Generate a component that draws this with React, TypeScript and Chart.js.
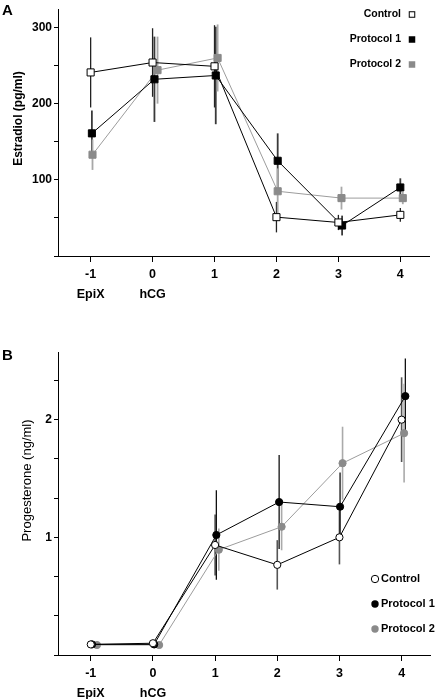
import React, { useEffect, useRef } from "react";
import { Chart, registerables } from "chart.js";

Chart.register(...registerables);

// ---------- shared ----------
const days = [-1, 0, 1, 2, 3, 4];
const dayNames = ["EpiX", "hCG", "", "", "", ""];
const seriesNames = ["Control", "Protocol 1", "Protocol 2"];

// ---------- Panel A: Estradiol (pg/ml) ----------
const estrXControl = [-1, 0, 1, 2, 3, 4];
const estrXP1 = [-0.98, 0.03, 1.02, 2.02, 3.06, 4.0];
const estrXP2 = [-0.97, 0.08, 1.05, 2.02, 3.05, 4.04];
const estrControl = [241, 254, 249, 51, 44, 54];
const estrP1 = [161, 232, 237, 125, 40, 90];
const estrP2 = [133, 244, 260, 85, 76, 76];
const estrControlErr = [46, 45, 54, 20, 10, 9];
const estrP1Err = [30, 56, 64, 36, 13, 12];
const estrP2Err = [20, 44, 44, 30, 15, 8];
const estrYTicks = [0, 50, 100, 150, 200, 250, 300];

// ---------- Panel B: Progesterone (ng/ml) ----------
const progXControl = [-1, 0, 1, 2, 3, 4];
const progXP1 = [-0.98, 0.02, 1.02, 2.03, 3.01, 4.06];
const progXP2 = [-0.9, 0.1, 1.06, 2.07, 3.05, 4.04];
const progControl = [0.09, 0.1, 0.935, 0.766, 1.0, 2.0];
const progP1 = [0.09, 0.09, 1.02, 1.3, 1.26, 2.2];
const progP2 = [0.085, 0.085, 0.895, 1.09, 1.63, 1.885];
const progControlErr = [0.03, 0.02, 0.26, 0.21, 0.23, 0.36];
const progP1Err = [0.03, 0.02, 0.38, 0.4, 0.29, 0.32];
const progP2Err = [0.02, 0.02, 0.18, 0.2, 0.31, 0.42];
const progYTicks = [0, 1 / 3, 2 / 3, 1, 4 / 3, 5 / 3, 2, 7 / 3];

const FONT = "'Liberation Sans', Arial, sans-serif";
Chart.defaults.font.family = FONT;
Chart.defaults.color = "#000";

const P2_MARK = "#8a8a8a";
const P2_LINE = "#9c9c9c";

const errorBarPlugin = {
  id: "errorBars",
  beforeDatasetsDraw(chart: any, _args: any, opts: any) {
    const ctx = chart.ctx;
    const ys = chart.scales.y;
    ctx.save();
    chart.data.datasets.forEach((ds: any, i: number) => {
      const meta = chart.getDatasetMeta(i);
      const errs: number[] = opts.errors[i];
      ctx.strokeStyle = opts.colors[i];
      ctx.lineWidth = opts.widths[i];
      meta.data.forEach((pt: any, j: number) => {
        const v = ds.data[j].y;
        const e = errs[j];
        const top = ys.getPixelForValue(v + e);
        const bot = ys.getPixelForValue(v - e);
        ctx.beginPath();
        ctx.moveTo(pt.x, top);
        ctx.lineTo(pt.x, bot);
        ctx.stroke();
      });
    });
    ctx.restore();
  },
};

const decorPlugin = {
  id: "decor",
  afterDraw(chart: any, _args: any, o: any) {
    const ctx = chart.ctx;
    ctx.save();
    // panel letter
    ctx.fillStyle = "#000";
    ctx.font = `bold 15px ${FONT}`;
    ctx.textAlign = "left";
    ctx.textBaseline = "alphabetic";
    ctx.fillText(o.panel, o.panelX, o.panelY);
    // y-axis title
    ctx.save();
    ctx.translate(o.titleX, o.titleY);
    ctx.rotate(-Math.PI / 2);
    ctx.font = o.titleFont;
    ctx.textAlign = "center";
    ctx.textBaseline = "middle";
    ctx.fillText(o.title, 0, 0);
    ctx.restore();
    // legend
    ctx.font = o.legendFont;
    ctx.textBaseline = "middle";
    o.items.forEach((it: any, i: number) => {
      const y = o.legendY + i * o.legendGap;
      ctx.fillStyle = "#000";
      if (o.legendStyle === "rect") {
        ctx.textAlign = "right";
        ctx.fillText(it.label, o.textX, y);
        const s = o.markSize;
        ctx.fillStyle = it.fill;
        ctx.fillRect(o.markX - s / 2, y - s / 2, s, s);
        if (it.stroke) {
          ctx.strokeStyle = it.stroke;
          ctx.lineWidth = 1;
          ctx.strokeRect(o.markX - s / 2 + 0.5, y - s / 2 + 0.5, s - 1, s - 1);
        }
      } else {
        ctx.textAlign = "left";
        ctx.fillText(it.label, o.textX, y);
        ctx.beginPath();
        ctx.arc(o.markX, y, o.markSize, 0, Math.PI * 2);
        ctx.fillStyle = it.fill;
        ctx.fill();
        if (it.stroke) {
          ctx.strokeStyle = it.stroke;
          ctx.lineWidth = 1;
          ctx.stroke();
        }
      }
    });
    ctx.restore();
  },
};

function makeDataset(label: string, xs: number[], ys: number[], style: any) {
  return {
    label,
    data: xs.map((x, i) => ({ x, y: ys[i] })),
    borderColor: style.line,
    borderWidth: 1,
    tension: 0,
    pointStyle: style.pointStyle,
    pointRadius: style.radius,
    pointHoverRadius: style.radius,
    pointBackgroundColor: style.fill,
    pointBorderColor: style.stroke,
    pointBorderWidth: 1,
    fill: false,
  };
}

function xScale(height: number) {
  return {
    type: "linear",
    min: -1.527,
    max: 4.463,
    afterBuildTicks: (axis: any) => {
      axis.ticks = days.map((v) => ({ value: v }));
    },
    afterFit: (s: any) => {
      s.height = height;
    },
    grid: { drawOnChartArea: false, drawTicks: true, tickLength: 6, color: "#000", lineWidth: 1 },
    border: { display: true, color: "#000", width: 1 },
    ticks: {
      autoSkip: false,
      maxRotation: 0,
      padding: 3,
      color: "#000",
      font: { size: 12.5, weight: "bold", lineHeight: 1.55 },
      callback: (value: any) => {
        const i = days.indexOf(Number(value));
        const name = i >= 0 ? dayNames[i] : "";
        return name ? [String(value), name] : String(value);
      },
    },
  };
}

function yScale(min: number, max: number, ticks: number[], labelFn: (v: number) => string) {
  return {
    type: "linear",
    min,
    max,
    afterBuildTicks: (axis: any) => {
      axis.ticks = ticks.map((v) => ({ value: v }));
    },
    afterFit: (s: any) => {
      s.width = 58;
    },
    grid: { drawOnChartArea: false, drawTicks: true, tickLength: 4, color: "#000", lineWidth: 1 },
    border: { display: true, color: "#000", width: 1 },
    ticks: {
      autoSkip: false,
      padding: 2,
      color: "#000",
      font: { size: 12, weight: "bold" },
      callback: (value: any) => labelFn(Number(value)),
    },
  };
}

function useChart(ref: React.RefObject<HTMLCanvasElement | null>, build: () => any) {
  useEffect(() => {
    if (!ref.current) return;
    const chart = new Chart(ref.current, build());
    return () => chart.destroy();
  }, []);
}

export default function App() {
  const refA = useRef<HTMLCanvasElement>(null);
  const refB = useRef<HTMLCanvasElement>(null);

  useChart(refA, () => ({
    type: "line",
    data: {
      datasets: [
        makeDataset(seriesNames[0], estrXControl, estrControl, { line: "#000", pointStyle: "rect", radius: 5, fill: "#fff", stroke: "#000" }),
        makeDataset(seriesNames[1], estrXP1, estrP1, { line: "#000", pointStyle: "rect", radius: 5, fill: "#000", stroke: "#000" }),
        makeDataset(seriesNames[2], estrXP2, estrP2, { line: P2_LINE, pointStyle: "rect", radius: 5, fill: P2_MARK, stroke: P2_MARK }),
      ],
    },
    plugins: [errorBarPlugin, decorPlugin],
    options: {
      responsive: false,
      animation: false,
      events: [],
      layout: { padding: { top: 3, right: 2, left: 0, bottom: 0 } },
      scales: {
        x: xScale(84),
        y: yScale(0, 324, estrYTicks, (v) => (v > 0 && v % 100 === 0 ? String(v) : "")),
      },
      plugins: {
        legend: { display: false },
        tooltip: { enabled: false },
        errorBars: {
          errors: [estrControlErr, estrP1Err, estrP2Err],
          colors: ["#222", "#3a3a3a", "#a8a8a8"],
          widths: [1.3, 1.8, 1.8],
        },
        decor: {
          panel: "A",
          panelX: 2,
          panelY: 15,
          title: "Estradiol (pg/ml)",
          titleFont: `bold 12px ${FONT}`,
          titleX: 19,
          titleY: 118.5,
          legendStyle: "rect",
          legendFont: `bold 10.5px ${FONT}`,
          legendY: 14.5,
          legendGap: 25,
          textX: 401,
          markX: 412,
          markSize: 6.5,
          items: [
            { label: seriesNames[0], fill: "#fff", stroke: "#000" },
            { label: seriesNames[1], fill: "#000" },
            { label: seriesNames[2], fill: P2_MARK },
          ],
        },
      },
    },
  }));

  useChart(refB, () => ({
    type: "line",
    data: {
      datasets: [
        makeDataset(seriesNames[0], progXControl, progControl, { line: "#000", pointStyle: "circle", radius: 3.6, fill: "#fff", stroke: "#000" }),
        makeDataset(seriesNames[1], progXP1, progP1, { line: "#000", pointStyle: "circle", radius: 3.6, fill: "#000", stroke: "#000" }),
        makeDataset(seriesNames[2], progXP2, progP2, { line: P2_LINE, pointStyle: "circle", radius: 3.6, fill: P2_MARK, stroke: P2_MARK }),
      ],
    },
    plugins: [errorBarPlugin, decorPlugin],
    options: {
      responsive: false,
      animation: false,
      events: [],
      layout: { padding: { top: 12, right: 2, left: 0, bottom: 0 } },
      scales: {
        x: xScale(44),
        y: yScale(0, 2.575, progYTicks, (v) => (v > 0 && Math.abs(v - Math.round(v)) < 1e-6 ? String(Math.round(v)) : "")),
      },
      plugins: {
        legend: { display: false },
        tooltip: { enabled: false },
        errorBars: {
          errors: [progControlErr, progP1Err, progP2Err],
          colors: ["#555", "#111", "#aaa"],
          widths: [1.6, 1.3, 1.6],
        },
        decor: {
          panel: "B",
          panelX: 2,
          panelY: 20,
          title: "Progesterone (ng/ml)",
          titleFont: `13px ${FONT}`,
          titleX: 27,
          titleY: 140.5,
          legendStyle: "circle",
          legendFont: `bold 11px ${FONT}`,
          legendY: 239,
          legendGap: 25,
          textX: 381,
          markX: 375,
          markSize: 3.7,
          items: [
            { label: seriesNames[0], fill: "#fff", stroke: "#000" },
            { label: seriesNames[1], fill: "#000" },
            { label: seriesNames[2], fill: P2_MARK },
          ],
        },
      },
    },
  }));

  return (
    <div style={{ position: "absolute", left: 0, top: 0, width: 435, height: 699, background: "#fff" }}>
      <canvas ref={refA} width={435} height={340} style={{ display: "block" }} />
      <canvas ref={refB} width={435} height={359} style={{ display: "block" }} />
    </div>
  );
}
